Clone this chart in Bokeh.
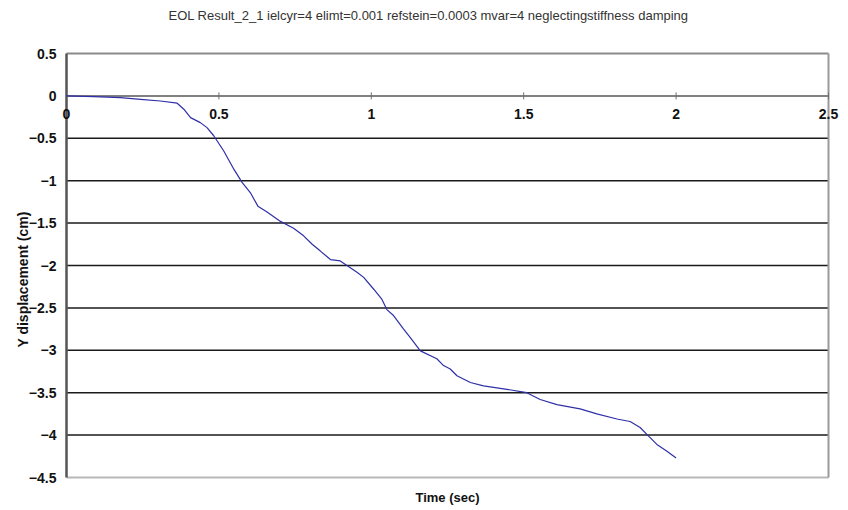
import math
from bokeh.plotting import figure
from bokeh.models import Range1d
from bokeh.core.properties import value
from bokeh.embed import file_html
from bokeh.resources import INLINE

# Time history of the Y displacement
time_sec = [0.0, 0.09, 0.177, 0.243, 0.308, 0.363, 0.385, 0.407, 0.439, 0.461,
            0.483, 0.516, 0.549, 0.576, 0.603, 0.628, 0.658, 0.702, 0.745, 0.778,
            0.806, 0.833, 0.866, 0.898, 0.92, 0.953, 0.975, 1.008, 1.035, 1.051,
            1.073, 1.106, 1.128, 1.161, 1.215, 1.237, 1.259, 1.281, 1.325, 1.368,
            1.445, 1.51, 1.554, 1.609, 1.685, 1.74, 1.806, 1.849, 1.882, 1.909,
            1.937, 1.97, 2.0]
y_disp_cm = [0.0, -0.008, -0.02, -0.04, -0.06, -0.086, -0.157, -0.256, -0.315, -0.374,
             -0.47, -0.65, -0.864, -1.02, -1.14, -1.30, -1.37, -1.48, -1.56, -1.65,
             -1.75, -1.83, -1.93, -1.946, -2.0, -2.08, -2.14, -2.28, -2.40, -2.52,
             -2.59, -2.75, -2.85, -3.007, -3.10, -3.18, -3.22, -3.30, -3.38, -3.42,
             -3.46, -3.50, -3.58, -3.64, -3.69, -3.75, -3.81, -3.84, -3.91, -4.01,
             -4.11, -4.19, -4.27]

x_ticks = [0, 0.5, 1, 1.5, 2, 2.5]
x_tick_labels = ["0", "0.5", "1", "1.5", "2", "2.5"]
y_ticks = [0.5, 0, -0.5, -1, -1.5, -2, -2.5, -3, -3.5, -4, -4.5]
y_tick_labels = ["0.5", "0", "\u22120.5", "\u22121", "\u22121.5", "\u22122", "\u22122.5",
                 "\u22123", "\u22123.5", "\u22124", "\u22124.5"]

title_text = ("EOL Result_2_1 ielcyr=4 elimt=0.001 refstein=0.0003 mvar=4 "
              "neglectingstiffness damping")
x_title = "Time (sec)"
y_title = "Y displacement (cm)"

X0, X1 = x_ticks[0], x_ticks[-1]
Y0, Y1 = y_ticks[-1], y_ticks[0]

# Canvas geometry (pixels): plot area from 66 to 828 horizontally, 53 to 477 vertically
W, H = 848, 510
left, right, top, bottom = 66, 828, 53, 477
sx = (right - left) / (X1 - X0)
sy = (bottom - top) / (Y1 - Y0)

p = figure(width=W, height=H, output_backend="svg", toolbar_location=None,
           x_axis_type=None, y_axis_type=None,
           x_range=Range1d(X0 - left / sx, X1 + (W - right) / sx),
           y_range=Range1d(Y0 - (H - bottom) / sy, Y1 + top / sy),
           min_border=0)
p.outline_line_color = None
p.grid.visible = False
p.background_fill_color = "white"
p.border_fill_color = "white"

FONT = value("Liberation Sans")

# Horizontal gridlines
inner = [v for v in y_ticks if v not in (Y0, Y1, 0)]
p.segment(x0=X0, x1=X1, y0=inner, y1=inner, line_color="#1a1a1a", line_width=1.5)
# Plot-area border
p.segment(x0=X0, x1=X1, y0=Y1, y1=Y1, line_color="#8a8a8a", line_width=2)
p.segment(x0=X0, x1=X1, y0=Y0, y1=Y0, line_color="#b8b8b8", line_width=2)
p.segment(x0=X1, x1=X1, y0=Y0, y1=Y1, line_color="#9a9a9a", line_width=2)
# x axis through zero, with its tick marks
p.segment(x0=X0, x1=X1, y0=0, y1=0, line_color="#808080", line_width=2)
p.scatter(x=x_ticks[1:], y=[0] * (len(x_ticks) - 1), marker="dash", angle=math.pi / 2,
          size=7, line_color="#707070", line_width=1)
# y axis line
p.segment(x0=X0, x1=X0, y0=Y0, y1=Y1, line_color="#555555", line_width=2.5)

# Data
p.line(time_sec, y_disp_cm, line_color="#2f2fa8", line_width=1.2)

# Tick labels
p.text(x=x_ticks, y=[0] * len(x_ticks), text=x_tick_labels, y_offset=18,
       text_align="center", text_baseline="middle", text_font=FONT,
       text_font_style="bold", text_font_size="14px", text_color="#111111")
p.text(x=[X0] * len(y_ticks), y=y_ticks, text=y_tick_labels, x_offset=-10,
       text_align="right", text_baseline="middle", text_font=FONT,
       text_font_style="bold", text_font_size="14px", text_color="#111111")

# Titles
p.text(x=[(X0 + X1) / 2], y=[Y1], text=[title_text], x_offset=-19, y_offset=-38,
       text_align="center", text_baseline="middle", text_font=FONT,
       text_font_size="13px", text_color="#333333")
p.text(x=[(X0 + X1) / 2], y=[Y0], text=[x_title], y_offset=20,
       text_align="center", text_baseline="middle", text_font=FONT,
       text_font_style="bold", text_font_size="13px", text_color="#111111")
p.text(x=[X0], y=[(Y0 + Y1) / 2], text=[y_title], x_offset=-44, y_offset=14,
       angle=math.pi / 2, text_align="center", text_baseline="middle",
       text_font=FONT, text_font_style="bold", text_font_size="14px",
       text_color="#111111")

open("out.html", "w").write(file_html(p, INLINE))
